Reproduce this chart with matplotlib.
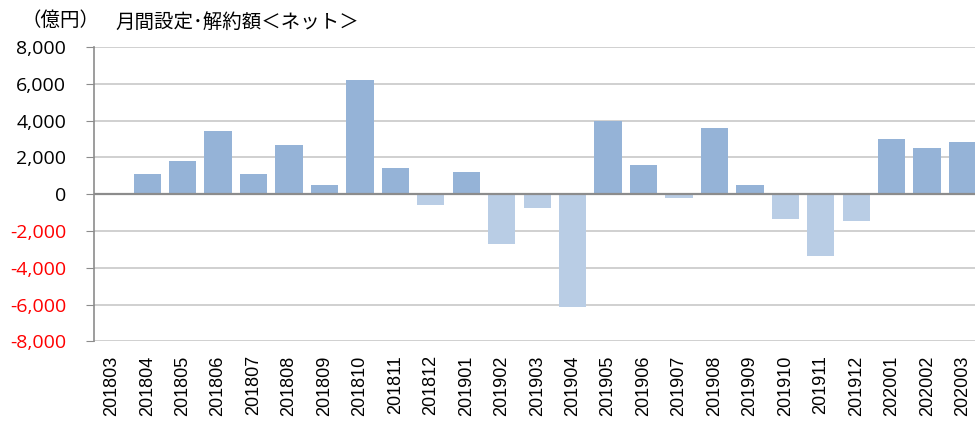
import matplotlib
matplotlib.use("Agg")
import matplotlib.pyplot as plt
import numpy as np

# 月間設定・解約額（ネット）, 億円
months = ["201803", "201804", "201805", "201806", "201807", "201808", "201809",
          "201810", "201811", "201812", "201901", "201902", "201903", "201904",
          "201905", "201906", "201907", "201908", "201909", "201910", "201911",
          "201912", "202001", "202002", "202003"]
net_flow = [0, 1110, 1820, 3450, 1110, 2690, 510,
            6230, 1410, -580, 1210, -2700, -730, -6110,
            3990, 1590, -180, 3620, 510, -1360, -3370,
            -1470, 2990, 2530, 2820]
yticks = [-8000, -6000, -4000, -2000, 0, 2000, 4000, 6000, 8000]

POS_COLOR = "#95B3D7"
NEG_COLOR = "#B9CDE5"
GRID_COLOR = "#C8C8C8"
AXIS_COLOR = "#8C8C8C"
JP_FONT = ["Noto Sans CJK JP", "DejaVu Sans"]

fig = plt.figure(figsize=(9.75, 4.26), dpi=100)
ax = fig.add_axes([0.0964, 0.1984, 1.0 - 0.0964, 0.6913])

x = np.arange(len(months))
colors = [POS_COLOR if v >= 0 else NEG_COLOR for v in net_flow]
ax.bar(x, net_flow, width=0.77, color=colors, zorder=3)

ax.set_ylim(-8000, 8000)
ax.set_xlim(-0.5, 24.35)
ax.set_yticks(yticks)
ax.set_yticklabels([f"{v:,}" for v in yticks], fontsize=14, family=["Open Sans", "DejaVu Sans"])
for lbl, v in zip(ax.get_yticklabels(), yticks):
    lbl.set_color("red" if v < 0 else "black")

ax.set_xticks(x)
ax.set_xticklabels(months, rotation=90, fontsize=13, family="Liberation Sans")
ax.tick_params(axis="x", length=0, pad=10)
ax.tick_params(axis="y", length=6, color=AXIS_COLOR, pad=14)

ax.grid(axis="y", color=GRID_COLOR, linewidth=1.2, zorder=0)
ax.axhline(0, color=AXIS_COLOR, linewidth=1.6, zorder=4)
for side in ["top", "right", "bottom"]:
    ax.spines[side].set_visible(False)
ax.spines["left"].set_color(AXIS_COLOR)
ax.spines["left"].set_linewidth(1.2)

fig.text(0.022, 0.952, "（億円）", fontsize=14, family=JP_FONT, va="center")
fig.text(0.118, 0.948, "月間設定･解約額＜ネット＞", fontsize=14, family=JP_FONT, va="center")

fig.savefig("out.png", dpi=100)
